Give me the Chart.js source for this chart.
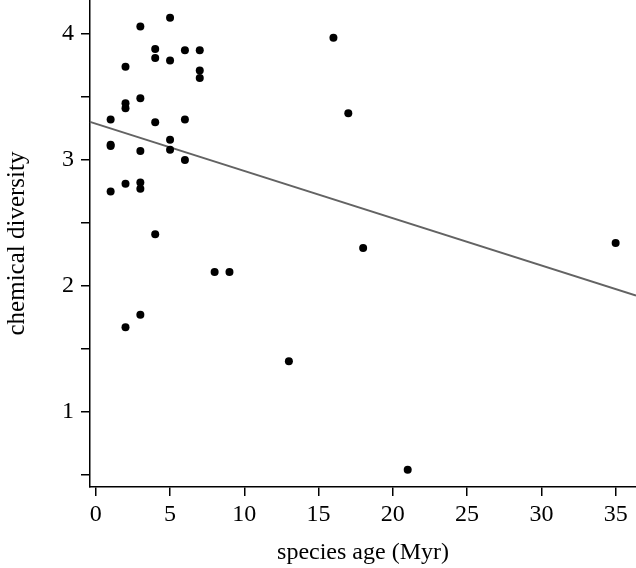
<!DOCTYPE html>
<html>
<head>
<meta charset="utf-8">
<script src="https://cdn.jsdelivr.net/npm/chart.js@4/dist/chart.umd.min.js"></script>
<style>
  html, body { margin: 0; padding: 0; background: #fff; }
  #wrap { width: 636px; height: 568px; position: relative; }
</style>
</head>
<body>
<div id="wrap"><canvas id="c"></canvas></div>
<script>
// Data
const speciesAge = [1, 1, 1, 1, 2, 2, 2, 2, 2, 3, 3, 3, 3, 3, 3, 4, 4, 4, 4, 5, 5, 5, 5, 6, 6, 6, 7, 7, 7, 8, 9, 13, 16, 17, 18, 21, 35];
const chemDiversity = [3.32, 3.12, 3.11, 2.75, 3.74, 3.45, 3.41, 2.81, 1.67, 4.06, 3.49, 3.07, 2.82, 2.77, 1.77, 3.88, 3.81, 3.30, 2.41, 4.13, 3.79, 3.16, 3.08, 3.87, 3.32, 3.00, 3.87, 3.71, 3.65, 2.11, 2.11, 1.40, 3.97, 3.37, 2.30, 0.54, 2.34];
// Regression line end points
const fitAge = [-0.39, 36.37];
const fitDiversity = [3.302, 1.923];
// Axis ticks
const xTicks = [0, 5, 10, 15, 20, 25, 30, 35];
const yTicks = [0.5, 1, 1.5, 2, 2.5, 3, 3.5, 4];
const xRange = [-0.39, 36.37];
const yRange = [0.402, 4.27];

const points = speciesAge.map((a, i) => ({ x: a, y: chemDiversity[i] }));
const fitLine = fitAge.map((a, i) => ({ x: a, y: fitDiversity[i] }));

const FONT = "'Liberation Serif', 'Times New Roman', serif";

new Chart(document.getElementById('c'), {
  type: 'scatter',
  data: {
    datasets: [
      {
        type: 'line',
        data: fitLine,
        borderColor: '#636363',
        borderWidth: 2,
        pointRadius: 0,
        fill: false,
        clip: false,
        order: 2
      },
      {
        data: points,
        backgroundColor: '#000',
        borderColor: '#000',
        borderWidth: 0,
        pointRadius: 4,
        clip: false,
        order: 1
      }
    ]
  },
  options: {
    responsive: true,
    maintainAspectRatio: false,
    animation: false,
    layout: { padding: 0, autoPadding: false },
    plugins: { legend: { display: false }, tooltip: { enabled: false } },
    scales: {
      x: {
        type: 'linear',
        min: xRange[0],
        max: xRange[1],
        afterBuildTicks: s => { s.ticks = xTicks.map(v => ({ value: v })); },
        afterFit: s => { s.height = 81; s.paddingLeft = 0; s.paddingRight = 0; },
        grid: { display: true, drawOnChartArea: false, drawTicks: true, tickLength: 9, color: '#000', lineWidth: 1.5 },
        border: { display: true, color: '#000', width: 1.5 },
        ticks: { color: '#000', font: { family: FONT, size: 24 }, padding: 4, maxRotation: 0, autoSkip: false },
        title: { display: true, text: 'species age (Myr)', color: '#000', font: { family: FONT, size: 24 }, padding: { top: 0, bottom: 1 } }
      },
      y: {
        type: 'linear',
        min: yRange[0],
        max: yRange[1],
        afterBuildTicks: s => { s.ticks = yTicks.map(v => ({ value: v })); },
        afterFit: s => { s.width = 90; s.paddingTop = 0; s.paddingBottom = 0; },
        grid: { display: true, drawOnChartArea: false, drawTicks: true, tickLength: 9, color: '#000', lineWidth: 1.5 },
        border: { display: true, color: '#000', width: 1.5 },
        ticks: {
          color: '#000', font: { family: FONT, size: 24 }, padding: 7, autoSkip: false,
          callback: v => (Number.isInteger(v) ? String(v) : '')
        },
        title: { display: true, text: 'chemical diversity', color: '#000', font: { family: FONT, size: 25 }, padding: { top: 2, bottom: 0 } }
      }
    }
  }
});
</script>
</body>
</html>
